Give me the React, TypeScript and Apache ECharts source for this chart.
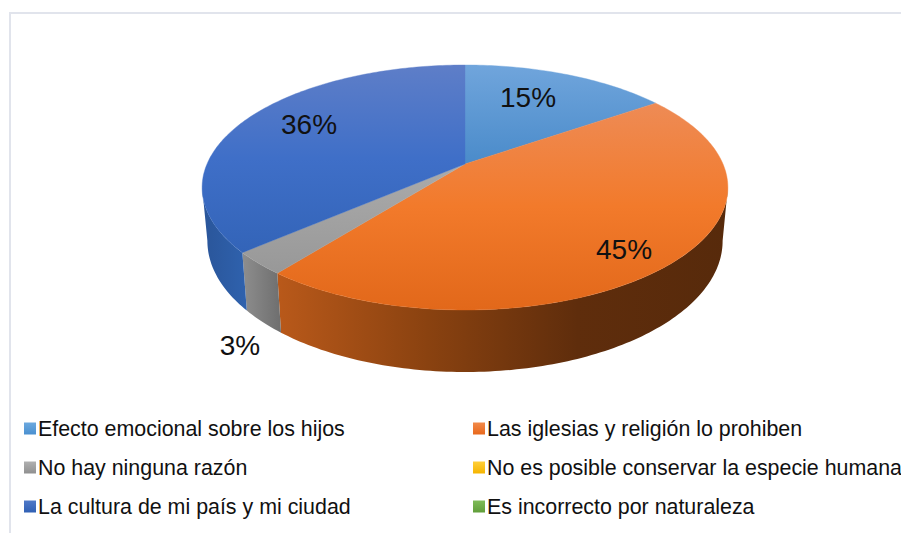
import React, { useEffect, useRef } from "react";
import * as echarts from "echarts";

const categories = [
  "Efecto emocional sobre los hijos",
  "Las iglesias y religión lo prohiben",
  "No hay ninguna razón",
  "No es posible conservar la especie humana",
  "La cultura de mi país y mi ciudad",
  "Es incorrecto por naturaleza",
];
const values = [15.3, 45.3, 3.0, 0, 36.4, 0];
const total = values.reduce((a, b) => a + b, 0);

// perspective disc geometry
const CX = 465, APEX_Y = 164, A = 258, B = 118, K = 0.1918;
const WALL_SX = 0.98, WALL_SY = 1.07, TOP_FRONT = 310, BOTTOM_FRONT = 372;
const WALL_FROM = 101, WALL_TO = 259;

const grad = (x2: number, y2: number, stops: string[]) =>
  new echarts.graphic.LinearGradient(0, 0, x2, y2, stops.map((color, i) => ({ offset: i / (stops.length - 1), color })));

const topColors = [
  ["#70A5DC", "#4A8BCA"],
  ["#EE8B55", "#F27A2B", "#E2681A"],
  ["#ABABAB", "#989898"],
  ["#FFCF4A", "#F2B800"],
  ["#5E7EC8", "#3F6FC8", "#3364B8"],
  ["#83BD5E", "#63A03C"],
];
const wallColors = [
  ["#3A6F9F", "#2A5075"],
  ["#B9591A", "#8A4210", "#5F2D0C", "#572A0B"],
  ["#8E8E8E", "#6E6E6E"],
  ["#A07A00", "#705500"],
  ["#2A5599", "#2F62AE"],
  ["#4A7030", "#334F20"],
];
const legendColors = [
  ["#6CA9DF", "#4A90D0"],
  ["#F28A4A", "#E8681C"],
  ["#B0B0B0", "#909090"],
  ["#FFCF3A", "#F5B400"],
  ["#5079C8", "#3060B4"],
  ["#7FBB58", "#609E3A"],
];
const labelPos: Record<number, [number, number]> = {
  0: [528, 97],
  1: [624, 249],
  2: [240, 345],
  4: [309, 124],
};

function topPoint(deg: number): [number, number] {
  const t = (deg * Math.PI) / 180;
  const u = Math.sin(t), v = Math.cos(t), w = 1 + K * v;
  return [CX + (A * u) / w, APEX_Y - (B * v) / w];
}
function bottomPoint(p: [number, number]): [number, number] {
  return [CX + WALL_SX * (p[0] - CX), BOTTOM_FRONT + WALL_SY * (p[1] - TOP_FRONT)];
}
function arc(a: number, b: number) {
  const pts: [number, number][] = [];
  const n = Math.max(2, Math.ceil(b - a));
  for (let i = 0; i <= n; i++) pts.push(topPoint(a + ((b - a) * i) / n));
  return pts;
}

const makeSeries = (idx: number) => ({
  type: "custom",
  name: categories[idx],
  coordinateSystem: "none",
  data: [[values[idx]]],
  itemStyle: { color: legendColors[idx][0] },
  renderItem: (_p: any, api: any) => {
    const val = api.value(0) as number;
    if (!val) return { type: "group", children: [] };
    const start = (values.slice(0, idx).reduce((a, b) => a + b, 0) / total) * 360;
    const end = start + (val / total) * 360;
    const children: any[] = [];
    const wa = Math.max(start, WALL_FROM), wb = Math.min(end, WALL_TO);
    if (wb > wa) {
      const t = arc(wa, wb);
      const bottom = t.map(bottomPoint).reverse();
      children.push({
        type: "polygon",
        z2: 1,
        shape: { points: [...t, ...bottom] },
        style: { fill: grad(1, 0, wallColors[idx]) },
      });
    }
    const fill = grad(0, 1, topColors[idx]);
    children.push({
      type: "polygon",
      z2: 2,
      shape: { points: [[CX, APEX_Y], ...arc(start, end)] },
      style: { fill, stroke: fill, lineWidth: 0.4 },
    });
    const pos = labelPos[idx];
    if (pos) {
      children.push({
        type: "text",
        z2: 3,
        x: pos[0],
        y: pos[1],
        style: {
          text: `${Math.round((val / total) * 100)}%`,
          fill: "#111111",
          font: '28px "Liberation Sans", Arial, sans-serif',
          textAlign: "center",
          textVerticalAlign: "middle",
        },
      });
    }
    return { type: "group", children };
  },
});

const legendBase = {
  orient: "vertical",
  padding: 0,
  itemWidth: 12,
  itemHeight: 12,
  itemGap: 18,
  icon: "rect",
  selectedMode: false,
  textStyle: { fontFamily: '"Liberation Sans", Arial, sans-serif', fontSize: 21.4, color: "#111111", padding: [0, 0, 0, -3] },
};
const legendItem = (i: number) => ({ name: categories[i], itemStyle: { color: grad(0, 1, legendColors[i]) } });

export default function App() {
  const ref = useRef<HTMLDivElement>(null);
  useEffect(() => {
    document.body.style.margin = "0";
    const chart = echarts.init(ref.current!, null, { renderer: "svg" });
    chart.setOption({
      animation: false,
      backgroundColor: "#ffffff",
      legend: [
        { ...legendBase, left: 24, top: 418, data: [0, 2, 4].map(legendItem) },
        { ...legendBase, left: 473, top: 418, data: [1, 3, 5].map(legendItem) },
      ],
      graphic: [
        {
          type: "polyline",
          z: 0,
          shape: { points: [[10, 533], [10, 13], [901, 13]] },
          style: { stroke: "#E1E4EC", lineWidth: 2, fill: "none" },
        },
      ],
      series: categories.map((_, i) => makeSeries(i)),
    });
    return () => chart.dispose();
  }, []);
  return <div ref={ref} style={{ position: "absolute", left: 0, top: 0, width: 901, height: 533 }} />;
}
